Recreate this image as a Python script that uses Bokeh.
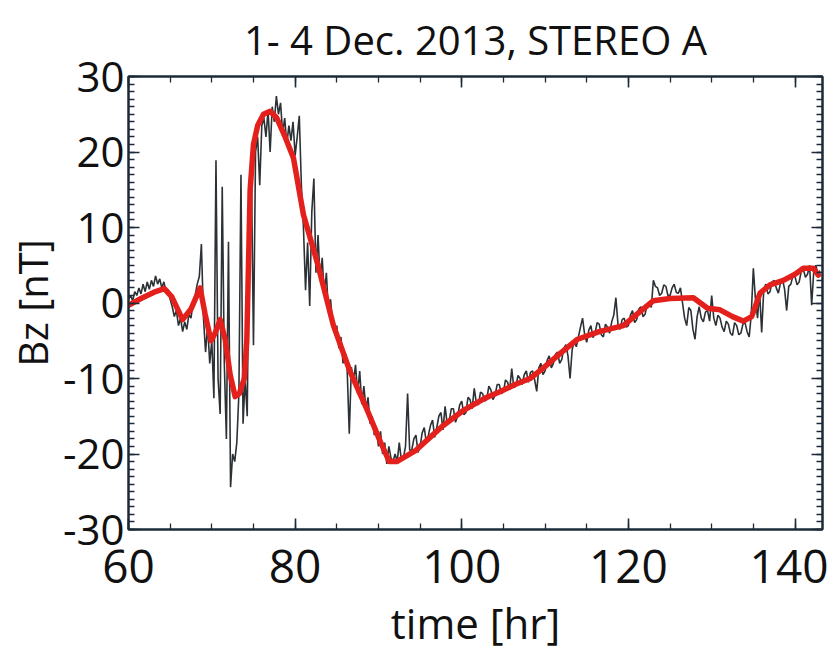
import numpy as np
from bokeh.plotting import figure
from bokeh.models import Range1d, LinearAxis, SingleIntervalTicker, CustomJSTickFormatter
from bokeh.embed import file_html
from bokeh.resources import INLINE

title_text = "1- 4 Dec. 2013, STEREO A"
x_label = "time [hr]"
y_label = "Bz [nT]"

# measured Bz (noisy trace), hand-read from the picture
# part A: 60 .. 91.75 hr, every 0.25 hr
bz_meas_a = [
    0.5, 1.0, 0.3, 1.5,
    1.0, 2.0, 1.2, 2.5,
    1.5, 2.8, 1.8, 3.0,
    2.2, 3.6, 2.5, 3.2,
    2.0, 2.8, 1.5, 1.8,
    0.5, -0.5, -1.8, -1.0,
    -3.0, -2.0, -3.8, -2.5,
    -3.5, -1.5, -2.0, 0.0,
    1.0, 2.5, 3.5, 7.8,
    -2.0, -6.5, -3.0, -8.0,
    -5.0, -12.6, 18.9, -10.0,
    -14.7, 15.4, -8.0, -18.0,
    8.1, -24.4, -20.0, -21.0,
    -18.5, -12.0, 17.0, -16.0,
    -10.0, -15.0, 12.0, 17.6,
    -5.6, 20.0, 22.0, 15.6,
    23.5, 24.5, 22.0, 25.5,
    20.0, 26.0, 24.0, 27.4,
    25.0, 26.5, 22.5, 24.5,
    21.0, 23.5, 21.5, 24.0,
    19.5, 22.0, 24.8, 15.6,
    10.0, 1.7, 8.0, -0.4,
    12.0, 16.5, 4.0, 9.0,
    3.0, 6.0, 1.0, 4.0,
    -1.3, 0.5, -2.6, -4.0,
    -3.0, -6.0, -4.5, -8.0,
    -6.5, -9.0, -17.3, -8.5,
    -10.5, -8.2, -12.0, -9.0,
    -13.4, -11.0, -14.0, -12.5,
    -16.0, -15.0, -17.5, -16.5,
    -19.0, -17.0, -20.0, -18.5,
    -21.3, -19.0, -20.5, -21.0,
]
# part B: 92 .. 143 hr, every 0.25 hr
bz_meas_b = [
    -20.0, -21.0, -18.5, -20.8, -20.5, -19.0, -12.0, -19.5,
    -19.5, -18.0, -17.5, -19.8, -19.0, -17.2, -16.5, -18.5,
    -17.5, -16.2, -15.5, -17.8, -16.5, -15.0, -14.5, -16.8,
    -13.7, -16.0, -15.5, -14.0, -14.0, -15.8, -15.0, -13.5,
    -13.0, -14.8, -14.5, -12.5, -12.8, -14.0, -11.3, -13.2,
    -13.5, -11.8, -12.0, -13.0, -12.8, -11.0, -11.5, -12.8,
    -12.2, -10.8, -10.8, -12.0, -11.8, -10.2, -10.5, -11.5,
    -8.7, -11.2, -11.0, -9.6, -10.0, -10.8, -9.5, -9.0,
    -10.5, -9.2, -9.0, -10.2, -11.7, -8.6, -8.0, -9.5,
    -9.0, -7.6, -7.0, -8.6, -8.0, -6.8, -6.5, -8.0,
    -7.5, -6.0, -5.5, -7.0, -10.0, -6.2, -5.0, -5.8,
    -4.5, -3.2, -2.0, -4.2, -5.2, -3.6, -3.0, -4.6,
    -4.0, -2.6, -2.8, -4.2, -4.5, -2.8, -3.2, -4.0,
    -2.5, -1.6, 0.7, -2.8, -3.5, -2.2, -2.0, -3.2,
    -3.0, -1.6, -1.0, -2.6, -2.2, -0.8, -0.5, -1.8,
    -1.5, -0.2, 0.0, -0.6, 3.0, 2.2, 2.0, 1.0,
    1.3, 2.4, 2.2, 1.0, 1.0, 2.0, 2.5, 1.4,
    1.3, 2.0, 0.0, -2.0, -3.0, -0.6, -1.0, -3.5,
    -4.8, -1.8, -0.5, -2.0, -2.5, -1.2, -1.0, -2.4,
    1.0, -2.0, -3.0, -1.6, -2.0, -3.2, -3.8, -2.4,
    -2.8, -4.0, -4.3, -2.6, -3.0, -4.2, -4.0, -2.8,
    -2.6, -3.8, -4.5, -1.5, 4.6, 0.5, -2.0, 1.5,
    -3.9, 1.8, 2.5, 1.2, 1.5, 2.8, 3.0, 2.0,
    1.3, 2.6, 3.2, 1.8, -1.0, 2.2, 2.5, 3.6,
    3.5, 2.4, 2.8, 4.2, 4.5, 3.4, 3.8, 5.0,
    -0.3, 4.2, 5.0, 3.8,
    4.3,
]
t_meas = np.concatenate([60 + 0.25 * np.arange(len(bz_meas_a)),
                         92 + 0.25 * np.arange(len(bz_meas_b))])
bz_meas = np.array(bz_meas_a + bz_meas_b)

# smoothed / model curve (red)
fit_t = [60.0, 61.5, 63.0, 64.3, 65.2, 66.5, 67.5, 68.6, 69.2, 69.9, 70.4, 71.0,
         71.6, 72.2, 72.8, 73.3, 73.9, 74.2, 74.4, 74.6, 75.0, 75.5, 76.2, 77.0,
         77.8, 78.8, 79.8, 81.0, 82.7, 84.6, 86.6, 88.7, 90.2, 91.3, 92.2, 94.4,
         96.0, 97.7, 100.1, 102.8, 104.5, 106.4, 108.2, 109.7, 112.0, 113.9, 116.5,
         119.4, 121.0, 123.0, 125.0, 127.8, 129.5, 131.0, 132.5, 133.8, 134.8,
         135.8, 137.0, 138.6, 140.0, 141.0, 142.2, 142.8]
fit_bz = [-0.3, 0.6, 1.4, 1.9, 0.8, -2.2, -0.8, 2.0, -1.5, -5.0, -4.0, -2.2,
          -4.8, -9.5, -12.4, -12.0, -10.0, -5.0, 5.0, 15.0, 21.0, 23.5, 25.0, 25.4,
          24.5, 22.0, 19.2, 11.7, 5.2, -3.0, -9.1, -14.3, -18.3, -21.0, -21.0, -19.6,
          -18.0, -16.3, -14.3, -12.6, -11.8, -10.8, -10.0, -8.7, -6.5, -4.8, -3.8,
          -3.0, -1.5, 0.3, 0.6, 0.7, -0.7, -0.9, -1.8, -2.4, -1.8,
          1.3, 2.4, 3.0, 3.8, 4.6, 4.6, 3.7]

FONT = "Open Sans"
FRAME = "#1c2a38"
TXT = "#111111"

p = figure(width=828, height=653, x_range=Range1d(60, 143.3), y_range=Range1d(-30, 30),
           output_backend="svg", toolbar_location=None,
           min_border_left=128, min_border_right=6, min_border_top=75, min_border_bottom=124,
           background_fill_color="white", border_fill_color="white")
p.xgrid.visible = False
p.ygrid.visible = False
p.outline_line_color = FRAME
p.outline_line_width = 2

p.title.text = title_text
p.title.align = "center"
p.title.text_font = FONT
p.title.text_font_size = "40px"
p.title.text_font_style = "normal"
p.title.text_color = TXT
p.title.standoff = 19

def style_axis(ax, ticker, show_labels):
    ax.ticker = ticker
    ax.major_tick_in = 11
    ax.major_tick_out = 0
    ax.minor_tick_in = 6
    ax.minor_tick_out = 0
    ax.major_tick_line_color = FRAME
    ax.minor_tick_line_color = FRAME
    ax.major_tick_line_width = 1.6
    ax.minor_tick_line_width = 1.3
    ax.axis_line_color = FRAME
    ax.axis_line_width = 2
    ax.major_label_text_font = FONT
    ax.major_label_text_font_size = "46px"
    ax.major_label_text_color = TXT
    ax.axis_label_text_font = FONT
    ax.axis_label_text_font_size = "42px"
    ax.axis_label_text_font_style = "normal"
    ax.axis_label_text_color = TXT
    if show_labels:
        ax.formatter = CustomJSTickFormatter(code="return tick.toFixed(0)")
    else:
        ax.formatter = CustomJSTickFormatter(code="return ''")
        ax.major_label_standoff = 0

xb = p.xaxis[0]
style_axis(xb, SingleIntervalTicker(interval=20, num_minor_ticks=4), True)
xb.axis_label = x_label
xb.major_label_standoff = 20
xb.axis_label_standoff = 8
yl = p.yaxis[0]
style_axis(yl, SingleIntervalTicker(interval=10, num_minor_ticks=10), True)
yl.major_label_text_font_size = "42px"
yl.axis_label_text_font_size = "40px"
yl.axis_label = y_label
yl.major_label_standoff = 4
yl.axis_label_standoff = 0

xt = LinearAxis()
style_axis(xt, SingleIntervalTicker(interval=20, num_minor_ticks=4), False)
p.add_layout(xt, "above")
yr = LinearAxis()
style_axis(yr, SingleIntervalTicker(interval=10, num_minor_ticks=10), False)
p.add_layout(yr, "right")

p.line(t_meas, bz_meas, line_color="#2c3136", line_width=1.6)
p.line(fit_t, fit_bz, line_color="#e3201b", line_width=5.5, line_join="round", line_cap="round")

open("out.html", "w").write(file_html(p, INLINE))
